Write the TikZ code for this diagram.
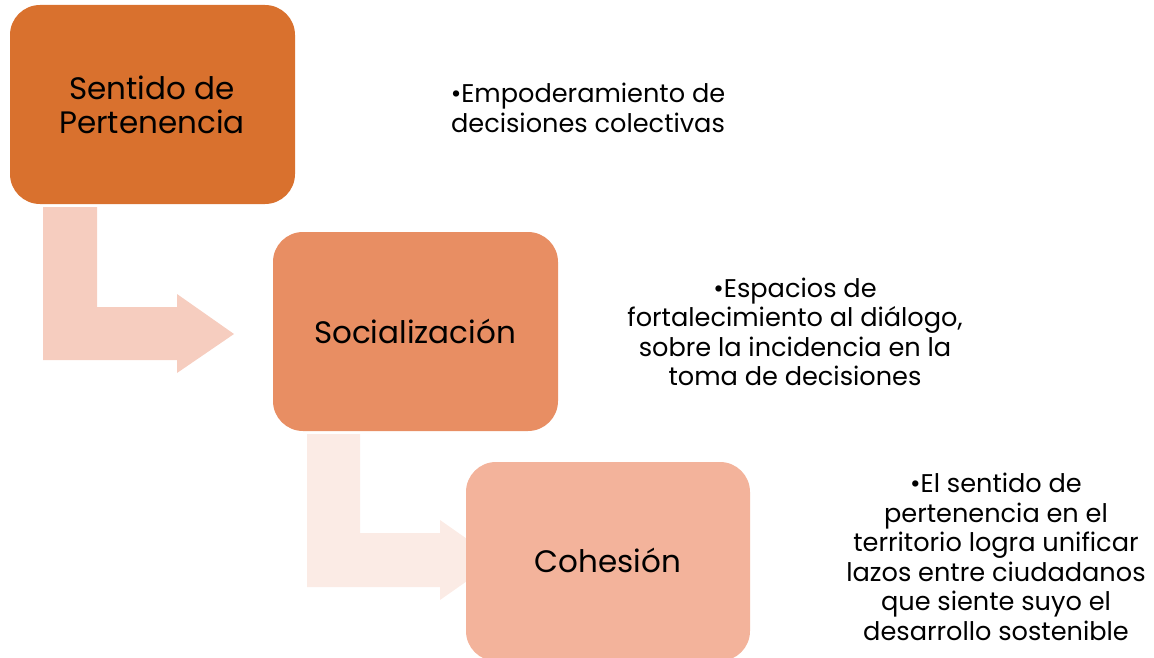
\documentclass[tikz,border=0pt]{standalone}
\usepackage{fontspec}
\setmainfont{Poppins}
\definecolor{cA}{HTML}{D9712E}
\definecolor{cB}{HTML}{E88E63}
\definecolor{cC}{HTML}{F3B39B}
\definecolor{arA}{HTML}{F6CDBF}
\definecolor{arB}{HTML}{FBEBE5}
\begin{document}
\begin{tikzpicture}[x=1pt,y=-1pt,
  stage/.style={fill=#1,rounded corners=30pt,draw=none},
  lbl/.style={font=\fontsize{31}{34}\selectfont,align=center,text=black},
  desc/.style={font=\fontsize{25.6}{29.5}\selectfont,align=center,text=black}]
\useasboundingbox (0,0) rectangle (1154,658);
\begin{scope}
\clip (0,0) rectangle (1154,658);
% arrows
\fill[arA] (43,207) -- (97,207) -- (97,307) -- (177,307) -- (177,294) -- (234,334) -- (177,373) -- (177,360) -- (43,360) -- cycle;
\fill[arB] (307,434) -- (360,434) -- (360,533) -- (440,533) -- (440,520) -- (497,560) -- (440,600) -- (440,587) -- (307,587) -- cycle;
% boxes
\path[stage=cA] (10,5) rectangle (295,204);
\path[stage=cB] (273,232) rectangle (558,431);
\path[stage=cC] (466,462) rectangle (750,661);
\end{scope}
\node[lbl] (t1) at (152,105) {Sentido de\\Pertenencia};
\node[lbl] (t2) at (415,331) {Socialización};
\node[lbl] (t3) at (608,560) {Cohesión};
\node[desc] (d1) at (588,108) {•Empoderamiento de\\decisiones colectivas};
\node[desc] (d2) at (795,332) {•Espacios de\\fortalecimiento al diálogo,\\sobre la incidencia en la\\toma de decisiones};
\node[desc] (d3) at (996,557) {•El sentido de\\pertenencia en el\\territorio logra unificar\\lazos entre ciudadanos\\que siente suyo el\\desarrollo sostenible};
\end{tikzpicture}
\end{document}
